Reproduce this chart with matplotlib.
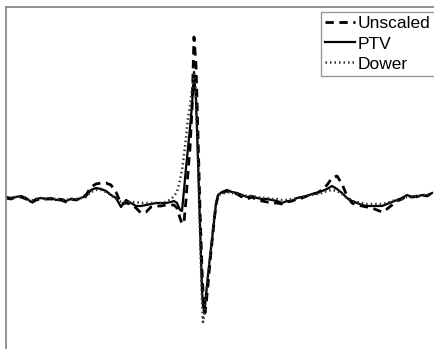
import matplotlib
matplotlib.use("Agg")
import matplotlib.pyplot as plt

# time positions (samples)
t = [6, 11, 16, 21, 26, 31, 36, 41, 46, 51, 56, 61, 66, 71, 76, 81, 86, 91, 96, 101,
     106, 111, 116, 121, 126, 131, 136, 141, 146, 151, 156, 161, 166, 171,
     174, 177, 180, 182, 184, 186, 188, 190, 192, 194, 196, 198, 200, 202, 203, 204,
     205, 206, 208, 210, 212, 214, 216, 218,
     222, 227, 232, 237, 242, 247, 252, 257, 262, 267, 272, 277, 282, 287, 292, 297,
     302, 307, 312, 317, 322, 327, 332, 337, 342, 347, 352, 357, 362, 367, 372, 377,
     382, 387, 392, 397, 402, 407, 412, 417, 422, 427, 432]

# signal levels (screen-down units)
ptv_raw = [197, 198, 197, 196, 198, 202, 199, 198, 199, 198, 200, 199, 201, 199, 200, 198, 196, 190, 188, 189,
           191, 195, 198, 207, 200, 203, 206, 206, 205, 204, 203, 203, 203, 202,
           201, 203, 210, 211, 190, 168, 148, 128, 105, 72, 100, 160, 225, 290, 306, 311,
           306, 295, 275, 257, 240, 222, 204, 195,
           192, 190, 192, 193, 195, 197, 196, 198, 199, 199, 200, 201, 203, 201, 201, 198,
           197, 196, 194, 193, 191, 189, 186, 189, 193, 198, 201, 203, 205, 206, 206, 206,
           206, 204, 202, 200, 198, 195, 197, 197, 195, 196, 193]

unscaled_raw = [198, 199, 197, 197, 199, 203, 200, 199, 199, 199, 200, 200, 202, 199, 200, 198, 195, 187, 184, 183,
                183, 185, 192, 204, 203, 204, 208, 213, 212, 207, 206, 206, 205, 205,
                205, 208, 218, 224, 222, 200, 172, 148, 110, 37, 65, 135, 210, 270, 292, 306,
                313, 305, 285, 262, 242, 222, 205, 196,
                193, 191, 193, 194, 197, 199, 197, 200, 201, 202, 203, 203, 204, 202, 201, 199,
                198, 196, 194, 193, 190, 185, 178, 176, 184, 196, 203, 205, 206, 207, 208, 210,
                212, 209, 205, 201, 199, 196, 197, 196, 195, 196, 193]

dower_raw = [198, 198, 197, 197, 198, 201, 199, 198, 199, 198, 199, 199, 200, 199, 199, 198, 197, 192, 190, 190,
             192, 195, 199, 202, 202, 202, 202, 203, 203, 203, 203, 203, 202, 199,
             196, 192, 180, 170, 155, 138, 118, 105, 90, 72, 95, 160, 235, 300, 322, 316,
             306, 295, 276, 257, 238, 218, 202, 195,
             194, 192, 193, 194, 195, 196, 196, 197, 198, 198, 199, 199, 200, 200, 199, 198,
             197, 196, 195, 194, 193, 191, 190, 191, 194, 198, 201, 202, 203, 204, 204, 204,
             204, 203, 201, 200, 199, 197, 197, 196, 195, 195, 193]

baseline = 198
unscaled = [baseline - v for v in unscaled_raw]
ptv = [baseline - v for v in ptv_raw]
dower = [baseline - v for v in dower_raw]

W, H = 435, 349
fig = plt.figure(figsize=(W / 100, H / 100), dpi=100)
ax = fig.add_axes([6 / W, 0, 1 - 6 / W, (H - 7) / H])

l1, = ax.plot(t, unscaled, color="black", linestyle=(0, (3.0, 2.0)), linewidth=2.0, label="Unscaled")
l2, = ax.plot(t, ptv, color="black", linestyle="-", linewidth=1.6, label="PTV")
l3, = ax.plot(t, dower, color="#333333", linestyle=(0, (0.6, 1.2)), linewidth=1.8, label="Dower")

ax.set_xlim(6, 435)
ax.set_ylim(baseline - H, baseline - 7)
ax.set_xticks([])
ax.set_yticks([])
for s in ["right", "bottom"]:
    ax.spines[s].set_visible(False)
for s in ["left", "top"]:
    ax.spines[s].set_color("#808080")
    ax.spines[s].set_linewidth(1.2)

leg = fig.legend(handles=[l1, l2, l3], loc="upper right",
                 bbox_to_anchor=(1.0, 1 - 12 / H), bbox_transform=fig.transFigure,
                 prop={"family": "Liberation Sans", "size": 12.5},
                 frameon=True, fancybox=False, borderpad=0.25, labelspacing=0.28,
                 handlelength=1.75, handletextpad=0.15, borderaxespad=0)
leg.get_frame().set_edgecolor("#808080")
leg.get_frame().set_linewidth(1.0)

fig.savefig("out.png", dpi=100)
